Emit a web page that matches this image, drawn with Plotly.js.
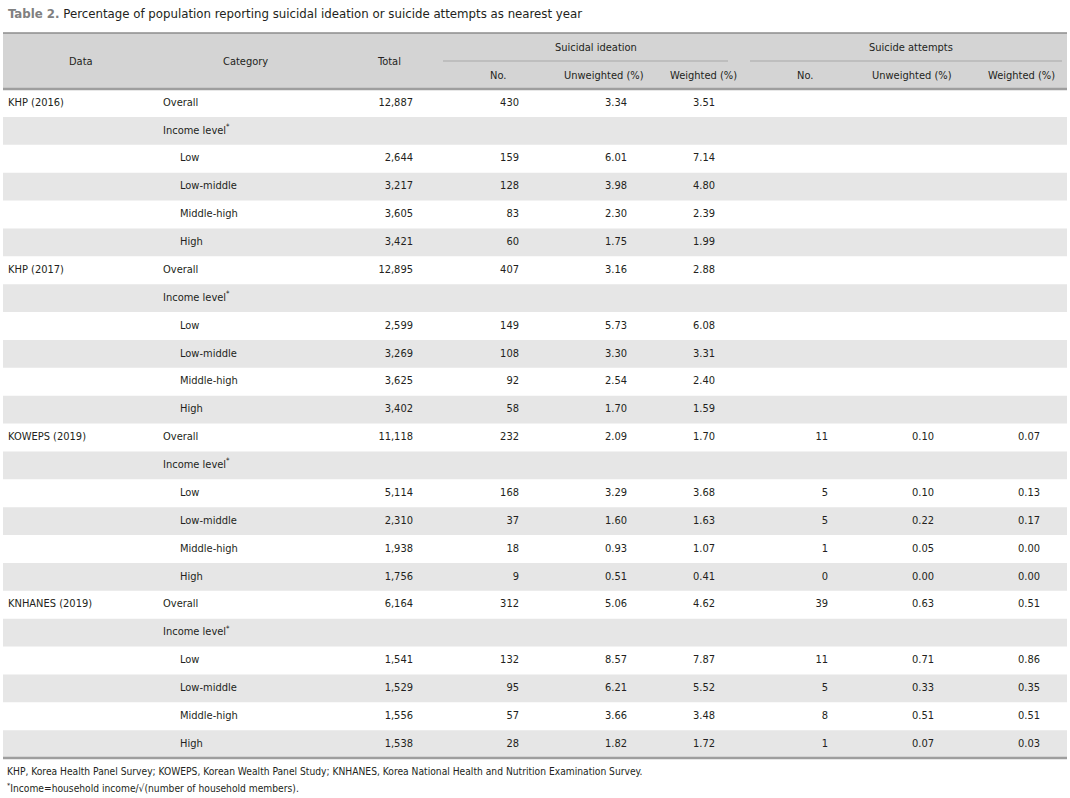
<!DOCTYPE html>
<html>
<head>
<meta charset="utf-8">
<script src="https://cdn.plot.ly/plotly-3.0.1.min.js"></script>
<style>html,body{margin:0;padding:0;background:#fff;}#chart{width:1070px;height:798px;}</style>
</head>
<body>
<div id="chart"></div>
<script>
// ---- data ----
const datasets = ["KHP (2016)", "KHP (2017)", "KOWEPS (2019)", "KNHANES (2019)"];
const categories = ["Overall", "Income level<sup>*</sup>", "Low", "Low-middle", "Middle-high", "High"];
const totals = [12887, null, 2644, 3217, 3605, 3421,
                12895, null, 2599, 3269, 3625, 3402,
                11118, null, 5114, 2310, 1938, 1756,
                6164, null, 1541, 1529, 1556, 1538];
const ideationNo = [430, null, 159, 128, 83, 60,
                    407, null, 149, 108, 92, 58,
                    232, null, 168, 37, 18, 9,
                    312, null, 132, 95, 57, 28];
const ideationUnw = [3.34, null, 6.01, 3.98, 2.30, 1.75,
                     3.16, null, 5.73, 3.30, 2.54, 1.70,
                     2.09, null, 3.29, 1.60, 0.93, 0.51,
                     5.06, null, 8.57, 6.21, 3.66, 1.82];
const ideationW = [3.51, null, 7.14, 4.80, 2.39, 1.99,
                   2.88, null, 6.08, 3.31, 2.40, 1.59,
                   1.70, null, 3.68, 1.63, 1.07, 0.41,
                   4.62, null, 7.87, 5.52, 3.48, 1.72];
const attemptsNo = [null, null, null, null, null, null,
                    null, null, null, null, null, null,
                    11, null, 5, 5, 1, 0,
                    39, null, 11, 5, 8, 1];
const attemptsUnw = [null, null, null, null, null, null,
                     null, null, null, null, null, null,
                     0.10, null, 0.10, 0.22, 0.05, 0.00,
                     0.63, null, 0.71, 0.33, 0.51, 0.07];
const attemptsW = [null, null, null, null, null, null,
                   null, null, null, null, null, null,
                   0.07, null, 0.13, 0.17, 0.00, 0.00,
                   0.51, null, 0.86, 0.35, 0.51, 0.03];
const groupHeaders = ["Suicidal ideation", "Suicide attempts"];
const subHeaders = ["No.", "Unweighted (%)", "Weighted (%)", "No.", "Unweighted (%)", "Weighted (%)"];
const titleBold = "Table 2.";
const titleText = "Percentage of population reporting suicidal ideation or suicide attempts as nearest year";
const footnotes = ["KHP, Korea Health Panel Survey; KOWEPS, Korean Wealth Panel Study; KNHANES, Korea National Health and Nutrition Examination Survey.",
                   "<sup>*</sup>Income=household income/\u221A(number of household members)."];

// ---- layout constants ----
const FONT = "'DejaVu Sans Condensed', 'Liberation Sans Narrow', sans-serif";
const TXT = "#231f20";
const fs = 11;
const top0 = 89, bot0 = 758;
const nRows = datasets.length * categories.length;
const rh = (bot0 - top0) / nRows;
const rowY = i => top0 + (i + 0.5) * rh;

const shapes = [];
const annotations = [];
// header background
shapes.push({type: 'rect', xref: 'x', yref: 'y', x0: 3, x1: 1067, y0: 33, y1: 89, fillcolor: '#d4d4d4', line: {width: 0}, layer: 'below'});
// stripes
for (let i = 0; i < nRows; i++) {
  if (i % 2 === 1) shapes.push({type: 'rect', xref: 'x', yref: 'y', x0: 3, x1: 1067, y0: top0 + i * rh, y1: top0 + (i + 1) * rh, fillcolor: '#e6e6e6', line: {width: 0}, layer: 'below'});
}
// lines
shapes.push({type: 'line', x0: 3, x1: 1067, y0: 33, y1: 33, line: {color: '#8c8c8c', width: 1.5}});
shapes.push({type: 'line', x0: 3, x1: 1067, y0: 89, y1: 89, line: {color: '#9e9e9e', width: 2.5}});
shapes.push({type: 'line', x0: 3, x1: 1067, y0: 758, y1: 758, line: {color: '#9e9e9e', width: 2.5}});
shapes.push({type: 'line', x0: 443, x1: 728, y0: 61, y1: 61, line: {color: '#a8a8a8', width: 1}});
shapes.push({type: 'line', x0: 750, x1: 1062, y0: 61, y1: 61, line: {color: '#a8a8a8', width: 1}});

function ann(text, x, y, xanchor, size) {
  annotations.push({text: text, x: x, y: y, xref: 'x', yref: 'y', xanchor: xanchor, yanchor: 'middle', showarrow: false, font: {family: FONT, size: size || fs, color: TXT}});
}
// title
ann('<b><span style="color:#808080">' + titleBold + '</span></b> ' + titleText, 6, 13, 'left', 13.1);
// header texts
ann('Data', 81, 61, 'center');
ann('Category', 245, 61, 'center');
ann('Total', 389, 61, 'center');
ann(groupHeaders[0], 596, 47, 'center');
ann(groupHeaders[1], 911, 47, 'center');
const subX = [498, 604, 703, 805, 912, 1021];
subHeaders.forEach((s, k) => ann(s, subX[k], 75, 'center'));
// footnotes
ann(footnotes[0], 5, 771, 'left', 10.2);
ann(footnotes[1], 5, 787, 'left', 10.2);

// ---- cell traces (only non-empty cells) ----
const rowIdx = Array.from({length: nRows}, (_, i) => i);
const fmtInt = v => v === null ? '' : v.toLocaleString('en-US');
const fmtPct = v => v === null ? '' : v.toFixed(2);

function textTrace(xOf, texts, pos) {
  const keep = rowIdx.filter(i => texts[i] !== '');
  return {type: 'scatter', mode: 'text',
          x: keep.map(i => xOf(i)), y: keep.map(rowY), text: keep.map(i => texts[i]),
          textposition: pos, textfont: {family: FONT, size: fs, color: TXT},
          hoverinfo: 'skip', showlegend: false, cliponaxis: false};
}
const nc = categories.length;
const dataTexts = rowIdx.map(i => i % nc === 0 ? datasets[i / nc] : '');
const catTexts = rowIdx.map(i => categories[i % nc]);

const traces = [
  textTrace(() => 8, dataTexts, 'middle right'),
  textTrace(i => (i % nc) < 2 ? 163 : 180, catTexts, 'middle right'),
  textTrace(() => 413, totals.map(fmtInt), 'middle left'),
  textTrace(() => 519, ideationNo.map(fmtInt), 'middle left'),
  textTrace(() => 627, ideationUnw.map(fmtPct), 'middle left'),
  textTrace(() => 715, ideationW.map(fmtPct), 'middle left'),
  textTrace(() => 828, attemptsNo.map(fmtInt), 'middle left'),
  textTrace(() => 934, attemptsUnw.map(fmtPct), 'middle left'),
  textTrace(() => 1040, attemptsW.map(fmtPct), 'middle left')
];

const layout = {
  width: 1070, height: 798,
  margin: {l: 0, r: 0, t: 0, b: 0},
  paper_bgcolor: '#ffffff', plot_bgcolor: '#ffffff',
  xaxis: {range: [0, 1070], visible: false, fixedrange: true},
  yaxis: {range: [798, 0], visible: false, fixedrange: true},
  shapes: shapes, annotations: annotations, showlegend: false
};
Plotly.newPlot('chart', traces, layout, {displayModeBar: false, staticPlot: true});
</script>
</body>
</html>
